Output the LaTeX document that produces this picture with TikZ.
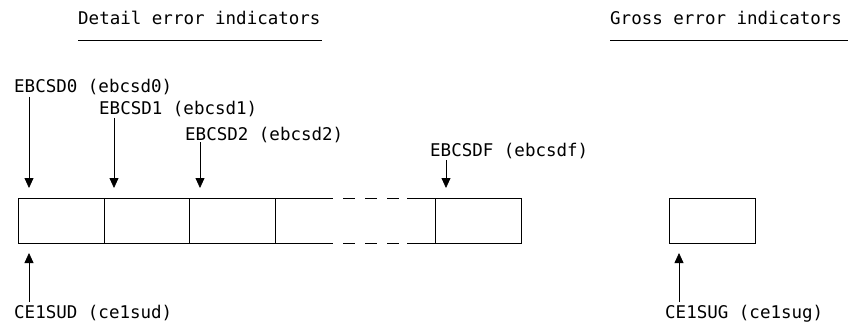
\documentclass[tikz,border=0pt]{standalone}
\usepackage{fontspec}
\newfontfamily\diagfont{DejaVu Sans Mono}
\usetikzlibrary{arrows.meta}
\begin{document}
\begin{tikzpicture}[x=1pt,y=-1pt,
  lbl/.style={anchor=base west,inner sep=0pt,font=\diagfont\fontsize{17.5pt}{20pt}\selectfont},
  cell/.style={draw,line width=0.8pt,minimum width=86pt,minimum height=45pt,inner sep=0pt,outer sep=0pt},
  ptr/.style={line width=0.8pt,-{Triangle[width=9pt,length=10pt]}},
  rule/.style={line width=0.8pt}]
\useasboundingbox (0,0) rectangle (848,326);
% titles
\node[lbl] (tdet) at (78,25) {Detail error indicators};
\node[lbl] (tgro) at (610,25) {Gross error indicators};
\coordinate (ud1) at (78,40); \coordinate (ud2) at (322,40);
\coordinate (ug1) at (610,40); \coordinate (ug2) at (848,40);
\draw[rule] (ud1) -- (ud2);
\draw[rule] (ug1) -- (ug2);
% cells
\node[cell,anchor=north west] (c0) at (18,198) {};
\node[cell,anchor=north west,minimum width=85pt] (c1) at (104,198) {};
\node[cell,anchor=north west] (c2) at (189,198) {};
\node[cell,anchor=north west] (cf) at (435,198) {};
\node[cell,anchor=north west] (cg) at (669,198) {};
% open cell with dashed continuation
\coordinate (o1) at (275,198); \coordinate (o2) at (333,198);
\coordinate (o3) at (407,198);
\coordinate (p1) at (275,243); \coordinate (p2) at (333,243);
\coordinate (p3) at (407,243);
\draw[rule] (c2.north east) -- (o2);
\draw[rule] (c2.south east) -- (p2);
\draw[rule,dash pattern=on 12pt off 10pt] (343,198) -- (o3);
\draw[rule,dash pattern=on 12pt off 10pt] (343,243) -- (p3);
\draw[rule] (o3) -- (cf.north west);
\draw[rule] (p3) -- (cf.south west);
% top labels and pointers
\node[lbl] (l0) at (14,93) {EBCSD0 (ebcsd0)};
\node[lbl] (l1) at (99,115) {EBCSD1 (ebcsd1)};
\node[lbl] (l2) at (185,140) {EBCSD2 (ebcsd2)};
\node[lbl] (lf) at (430,156) {EBCSDF (ebcsdf)};
\coordinate (a0s) at (29,97);  \coordinate (a0e) at (29,188);
\coordinate (a1s) at (114,118); \coordinate (a1e) at (114,188);
\coordinate (a2s) at (200,142); \coordinate (a2e) at (200,188);
\coordinate (afs) at (446,160); \coordinate (afe) at (446,188);
\draw[ptr] (a0s) -- (a0e);
\draw[ptr] (a1s) -- (a1e);
\draw[ptr] (a2s) -- (a2e);
\draw[ptr] (afs) -- (afe);
% bottom labels and pointers
\node[lbl] (ld) at (14,318) {CE1SUD (ce1sud)};
\node[lbl] (lg) at (665,318) {CE1SUG (ce1sug)};
\coordinate (bds) at (29,302); \coordinate (bde) at (29,253);
\coordinate (bgs) at (679,302); \coordinate (bge) at (679,253);
\draw[ptr] (bds) -- (bde);
\draw[ptr] (bgs) -- (bge);
\end{tikzpicture}
\end{document}
